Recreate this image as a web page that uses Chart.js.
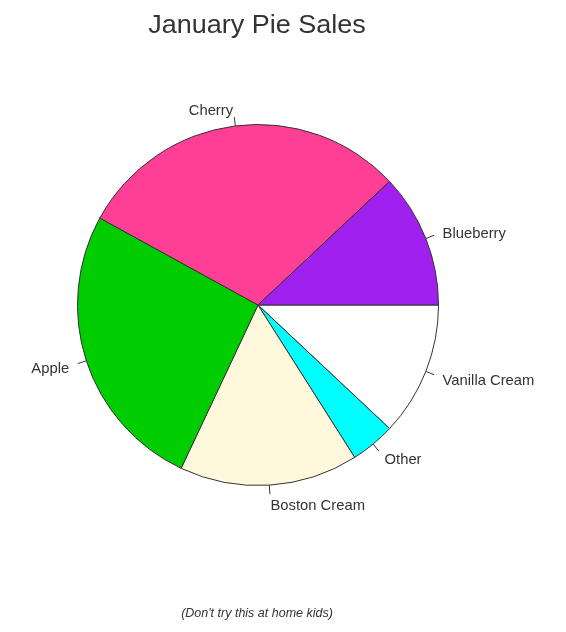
<!DOCTYPE html>
<html>
<head>
<meta charset="utf-8">
<script src="https://cdn.jsdelivr.net/npm/chart.js@4/dist/chart.umd.min.js"></script>
<style>
    html, body {margin: 0; padding: 0; background: #fff;}
    #wrap {width: 566px; height: 632px;}
</style>
</head>
<body>
<div id="wrap"><canvas id="pieChart" width="566" height="632"></canvas></div>
<script>
const titleText = 'January Pie Sales';
const subText = "(Don't try this at home kids)";
const categories = ['Blueberry', 'Cherry', 'Apple', 'Boston Cream', 'Other', 'Vanilla Cream'];
const sales = [0.12, 0.30, 0.26, 0.16, 0.04, 0.12];
const sliceColors = ['#A020F0', '#FF3E96', '#00CD00', '#FFF8DC', '#00FFFF', '#FFFFFF'];

// R draws counter-clockwise from 3 o'clock, Chart.js clockwise -> reverse the order
const labels = categories.slice().reverse();
const values = sales.slice().reverse();
const colors = sliceColors.slice().reverse();

const textColor = '#333';
const fontFamily = '"Liberation Sans", Arial, sans-serif';

// text slightly wider than Arial, like the original png
function stretchText(ctx, text, x, y, sx) {
    ctx.save();
    ctx.translate(x, y);
    ctx.scale(sx, 1);
    ctx.fillText(text, 0, 0);
    ctx.restore();
}

const pieLabels = {
    id: 'pieLabels',
    afterDatasetsDraw(chart) {
        const ctx = chart.ctx;
        const arcs = chart.getDatasetMeta(0).data;
        ctx.save();
        ctx.strokeStyle = textColor;
        ctx.lineWidth = 1;
        ctx.fillStyle = textColor;
        ctx.font = '14.5px ' + fontFamily;
        ctx.textBaseline = 'middle';
        arcs.forEach((arc, i) => {
            const {x, y, startAngle, endAngle, outerRadius} = arc.getProps(['x', 'y', 'startAngle', 'endAngle', 'outerRadius'], true);
            const mid = (startAngle + endAngle) / 2;
            const cos = Math.cos(mid), sin = Math.sin(mid);
            ctx.beginPath();
            ctx.moveTo(x + outerRadius * cos, y + outerRadius * sin);
            ctx.lineTo(x + outerRadius * 1.05 * cos, y + outerRadius * 1.05 * sin);
            ctx.stroke();
            ctx.textAlign = cos >= 0 ? 'left' : 'right';
            stretchText(ctx, labels[i], x + outerRadius * 1.1 * cos, y + outerRadius * 1.1 * sin + 2.5, 1.02);
        });

        ctx.textAlign = 'center';
        ctx.textBaseline = 'alphabetic';
        ctx.font = '25px ' + fontFamily;
        stretchText(ctx, titleText, 257, 33, 1.08);
        ctx.font = 'italic 12.5px ' + fontFamily;
        stretchText(ctx, subText, 257, 617, 1.0);
        ctx.restore();
    }
};

new Chart(document.getElementById('pieChart'), {
    type: 'pie',
    data: {
        labels: labels,
        datasets: [{
            data: values,
            backgroundColor: colors,
            borderColor: '#333',
            borderWidth: 1
        }]
    },
    options: {
        responsive: false,
        animation: false,
        rotation: 90,
        events: [],
        layout: {
            padding: {left: 77, right: 127, top: 124, bottom: 146}
        },
        plugins: {
            legend: {display: false},
            tooltip: {enabled: false},
            title: {display: false}
        }
    },
    plugins: [pieLabels]
});
</script>
</body>
</html>
